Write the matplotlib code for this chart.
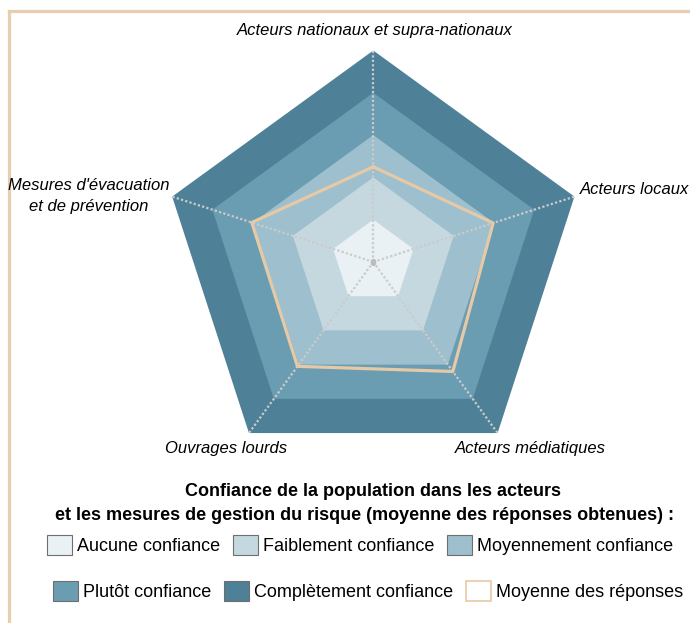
import numpy as np
from matplotlib import pyplot as plt
from matplotlib.lines import Line2D
from matplotlib.patches import Patch

# axes of the radar, clockwise from the top
categories = ["Acteurs nationaux et supra-nationaux", "Acteurs locaux",
              "Acteurs médiatiques", "Ouvrages lourds",
              "Mesures d'évacuation\net de prévention"]
# average answer per axis (1 = aucune ... 5 = complètement)
moyenne = [2.25, 2.98, 3.2, 3.05, 3.02]

levels = [1, 2, 3, 4, 5]
level_names = ["Aucune confiance", "Faiblement confiance", "Moyennement confiance",
               "Plutôt confiance", "Complètement confiance"]
level_colors = ["#e9f1f4", "#c5d8e0", "#9ebfcd", "#6a9db1", "#4e8098"]
avg_color = "#e6c9a6"
frame_color = "#e8cdb0"

plt.rcParams['font.family'] = ['Liberation Sans', 'DejaVu Sans']

fig = plt.figure(figsize=(6.9, 6.23), dpi=100)
ax = fig.add_axes([0.2345, 0.24, 0.613, 0.679], projection='polar')
ax.set_theta_offset(np.pi / 2)
ax.set_theta_direction(-1)

theta = np.linspace(0, 2 * np.pi, len(categories), endpoint=False)
theta_closed = np.append(theta, theta[0])

# filled bands, outer first
for lvl, col in reversed(list(zip(levels, level_colors))):
    ax.fill(theta_closed, [lvl] * len(theta_closed), color=col, lw=0, zorder=1)

# dotted spokes
for t in theta:
    ax.plot([t, t], [0, levels[-1]], color="#cbcbcb", lw=1.6,
            linestyle=(0, (1, 1)), zorder=3)
ax.plot([0], [0], marker='s', ms=3, color="#bdbdbd", zorder=4)

# average line
ax.plot(theta_closed, moyenne + moyenne[:1], color=avg_color, lw=2.3, zorder=5)

ax.set_ylim(0, levels[-1])
ax.set_xticks([])
ax.set_yticks([])
ax.grid(False)
ax.spines['polar'].set_visible(False)
ax.patch.set_visible(False)

# axis labels
lab = dict(style='italic', fontsize=12, color='black')
W, H = 690, 623
fig.text(375 / W, 1 - 31 / H, categories[0], ha='center', va='center', **lab)
fig.text(580 / W, 1 - 189 / H, categories[1], ha='left', va='center', **lab)
fig.text(530 / W, 1 - 449 / H, categories[2], ha='center', va='center', **lab)
fig.text(226 / W, 1 - 449 / H, categories[3], ha='center', va='center', **lab)
fig.text(89 / W, 1 - 196 / H, categories[4], ha='center', va='center',
         linespacing=1.55, **lab)

# legend title
fig.text(373 / W, 1 - 492 / H, "Confiance de la population dans les acteurs",
         ha='center', va='center', fontsize=13, fontweight='bold')
fig.text(365 / W, 1 - 516 / H,
         "et les mesures de gestion du risque (moyenne des réponses obtenues) :",
         ha='center', va='center', fontsize=13, fontweight='bold')

handles = [Patch(facecolor=c, edgecolor="#6e6e6e", lw=0.8) for c in level_colors]
handles.append(Patch(facecolor="white", edgecolor=avg_color, lw=1.2))
names = level_names + ["Moyenne des réponses"]

leg_kw = dict(ncol=3, frameon=False, fontsize=13, handlelength=1.41,
              handleheight=1.33, handletextpad=0.25, columnspacing=0.7,
              borderpad=0, borderaxespad=0, loc='center left')
fig.legend(handles[:3], names[:3], bbox_to_anchor=(47 / W, 1 - 545 / H), **leg_kw)
fig.legend(handles[3:], names[3:], bbox_to_anchor=(53 / W, 1 - 591 / H), **leg_kw)

# beige frame (top and left)
fig.add_artist(Line2D([9 / W, 1], [1 - 10.5 / H, 1 - 10.5 / H], color=frame_color, lw=2.3))
fig.add_artist(Line2D([9 / W, 9 / W], [0, 1 - 10.5 / H], color=frame_color, lw=2.3))

fig.savefig("out.png", dpi=100)
